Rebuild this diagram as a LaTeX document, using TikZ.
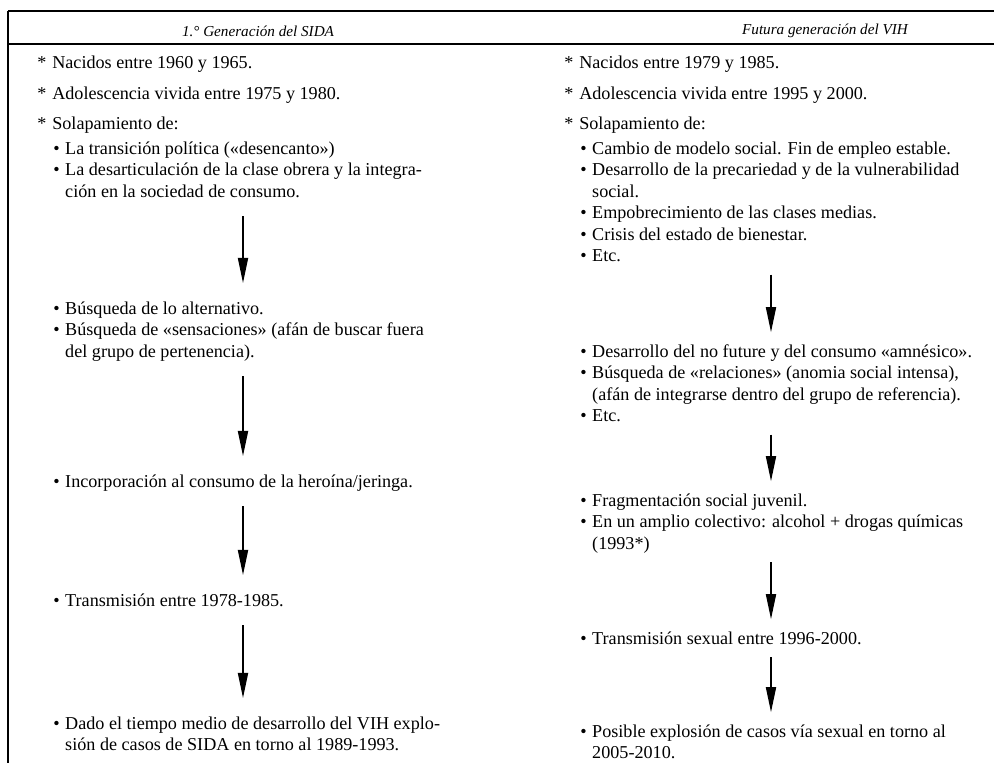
\documentclass[tikz,border=0pt]{standalone}
\usepackage{fontspec}
\setmainfont{Liberation Serif}
\usetikzlibrary{arrows.meta,calc}
\tikzstyle{colhead}=[font=\itshape\fontsize{10.8pt}{13pt}\selectfont, inner sep=0pt]
\tikzstyle{texto}=[font=\fontsize{12.9pt}{15.3pt}\selectfont, align=left,
  anchor=north west, inner sep=0pt]
\tikzstyle{rule}=[line width=1.6pt]
\tikzstyle{flow}=[-{Triangle[width=7.2pt,length=17.8pt]}, line width=1pt,
  shorten <=8.5pt, shorten >=11.4pt]
\tikzstyle{flowr}=[flow, shorten <=4.3pt, shorten >=7pt]
% star, bullet and hanging indent of the lists
\newcommand{\estr}{\strut\makebox[10.7pt][l]{*}}
\newcommand{\bul}{\strut\makebox[8.5pt][l]{\textbullet}}
\newcommand{\sig}{\strut\hspace*{8.5pt}}
\begin{document}
\begin{tikzpicture}[x=0.025cm,y=-0.025cm]
  \useasboundingbox (0,0) rectangle (994,763);
  % frame of the table
  \draw[rule, line width=2pt] (8,11) -- (994,11);
  \draw[rule] (8,44) -- (994,44);
  \draw[rule] (8,11) -- (8,763);
  \node[colhead] (h1) at (258,31) {1.° Generación del SIDA};
  \node[colhead] (h2) at (825,31) {Futura generación del VIH};

  % left column
  \node[texto] (l1) at (37,53) {\estr Nacidos entre 1960 y 1965.};
  \node[texto] (l2) at (37,84) {\estr Adolescencia vivida entre 1975 y 1980.};
  \node[texto] (l3) at (37,114) {\estr Solapamiento de:};
  \node[texto] (l4) at (53,139) {\bul La transición política («desencanto»)\\
    \bul La desarticulación de la clase obrera y la integra-\\
    \sig ción en la sociedad de consumo.};
  \node[texto] (l5) at (53,299) {\bul Búsqueda de lo alternativo.\\
    \bul Búsqueda de «sensaciones» (afán de buscar fuera\\
    \sig del grupo de pertenencia).};
  \node[texto] (l6) at (53,472) {\bul Incorporación al consumo de la heroína/jeringa.};
  \node[texto] (l7) at (53,591) {\bul Transmisión entre 1978-1985.};
  \node[texto] (l8) at (53,714) {\bul Dado el tiempo medio de desarrollo del VIH explo-\\
    \sig sión de casos de SIDA en torno al 1989-1993.};

  % right column
  \node[texto] (r1) at (564,53) {\estr Nacidos entre 1979 y 1985.};
  \node[texto] (r2) at (564,84) {\estr Adolescencia vivida entre 1995 y 2000.};
  \node[texto] (r3) at (564,114) {\estr Solapamiento de:};
  \node[texto] (r4) at (580,139) {\bul Cambio de modelo social. Fin de empleo estable.\\
    \bul Desarrollo de la precariedad y de la vulnerabilidad\\
    \sig social.\\
    \bul Empobrecimiento de las clases medias.\\
    \bul Crisis del estado de bienestar.\\
    \bul Etc.};
  \node[texto] (r5) at (580,342) {\bul Desarrollo del no future y del consumo «amnésico».\\
    \bul Búsqueda de «relaciones» (anomia social intensa),\\
    \sig (afán de integrarse dentro del grupo de referencia).\\
    \bul Etc.};
  \node[texto] (r6) at (580,491) {\bul Fragmentación social juvenil.\\
    \bul En un amplio colectivo: alcohol + drogas químicas\\
    \sig (1993*)};
  \node[texto] (r7) at (580,629) {\bul Transmisión sexual entre 1996-2000.};
  \node[texto] (r8) at (580,722) {\bul Posible explosión de casos vía sexual en torno al\\
    \sig 2005-2010.};

  \coordinate (lx) at (243,0);
  \coordinate (rx) at (771,0);
  \draw[flow] (l4.south -| lx) -- (l5.north -| lx);
  \draw[flow] (l5.south -| lx) -- (l6.north -| lx);
  \draw[flow] (l6.south -| lx) -- (l7.north -| lx);
  \draw[flow] (l7.south -| lx) -- (l8.north -| lx);
  \draw[flowr] (r4.south -| rx) -- (r5.north -| rx);
  \draw[flowr] (r5.south -| rx) -- (r6.north -| rx);
  \draw[flowr] (r6.south -| rx) -- (r7.north -| rx);
  \draw[flowr] (r7.south -| rx) -- (r8.north -| rx);
\end{tikzpicture}
\end{document}
